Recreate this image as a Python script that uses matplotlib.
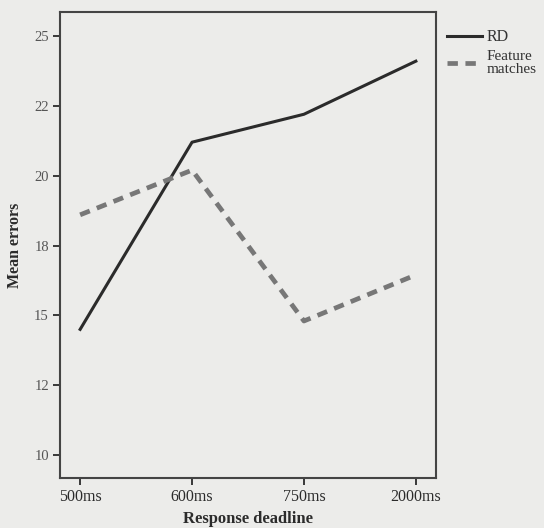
import matplotlib.pyplot as plt

deadlines = ["500ms", "600ms", "750ms", "2000ms"]
rd = [14.5, 21.2, 22.2, 24.1]
feature_matches = [18.6, 20.2, 14.8, 16.45]
ytick_vals = [10, 12.5, 15, 17.5, 20, 22.5, 25]
ytick_labels = ["10", "12", "15", "18", "20", "22", "25"]

plt.rcParams['font.family'] = ['Liberation Serif', 'DejaVu Serif']
bg = '#ececea'
ink = '#2b2b2b'

fig = plt.figure(figsize=(5.44, 5.28), dpi=100, facecolor=bg)
ax = fig.add_axes([60/544, 1-478/528, 376/544, 466/528], facecolor=bg)

x = range(len(deadlines))
ax.plot(x, rd, color=ink, lw=2.2, label="RD")
ax.plot(x, feature_matches, color='#777777', lw=3.4, ls=(0, (2.2, 1.6)), label="Feature\nmatches")

ax.set_xlim(-0.18, 3.18)
ax.set_ylim(9.18, 25.86)
ax.set_xticks(list(x))
ax.set_xticklabels(deadlines, fontsize=11.5, color=ink)
ax.set_yticks(ytick_vals)
ax.set_yticklabels(ytick_labels, fontsize=10.5, color='#555555')
ax.tick_params(axis='both', length=5, width=1.3, color=ink, direction='out', pad=3)
for s in ax.spines.values():
    s.set_color('#444444')
    s.set_linewidth(1.5)

ax.set_xlabel("Response deadline", fontsize=12, fontweight='bold', color=ink, labelpad=4)
ax.set_ylabel("Mean errors", fontsize=11.5, fontweight='bold', color=ink, labelpad=8)

leg = ax.legend(loc='upper left', bbox_to_anchor=(0.995, 0.99), frameon=False,
                fontsize=11.5, handlelength=2.2, handletextpad=0.3,
                labelspacing=0.3, borderaxespad=0.4)
for t in leg.get_texts():
    t.set_color('#333333')
leg.get_texts()[1].set_fontsize(11)
leg.get_texts()[1].set_linespacing(1.0)

fig.savefig("out.png", dpi=100, facecolor=bg)
